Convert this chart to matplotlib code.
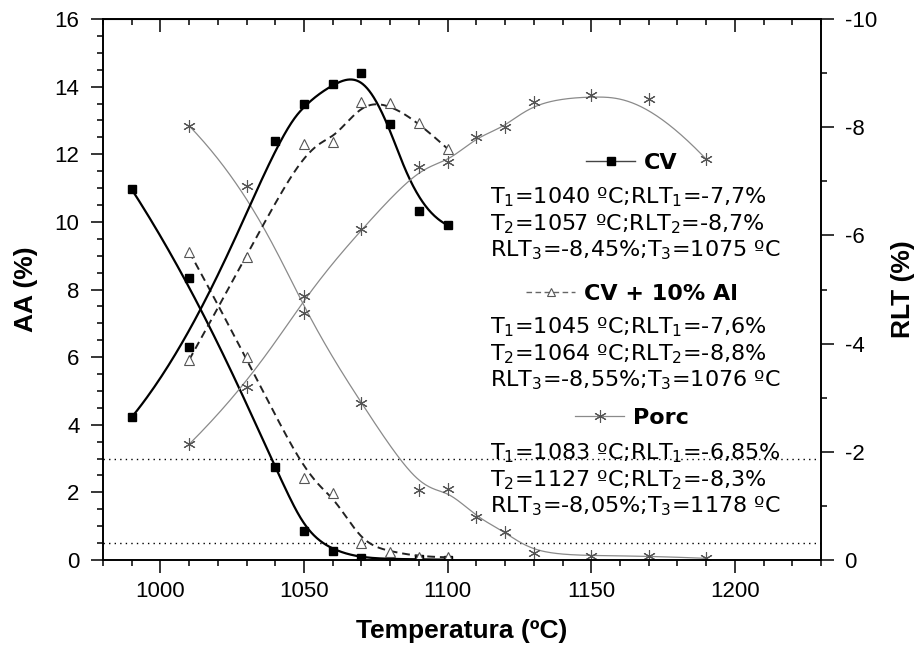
import numpy as np
import matplotlib.pyplot as plt
from matplotlib.ticker import MultipleLocator
from matplotlib.lines import Line2D

# temperatures (ºC)
t_cv = [990, 1010, 1040, 1050, 1060, 1070, 1080, 1090, 1100]
t_al = [1010, 1030, 1050, 1060, 1070, 1080, 1090, 1100]
t_porc = [1010, 1030, 1050, 1070, 1090, 1100, 1110, 1120, 1130, 1150, 1170, 1190]

# absorcao de agua AA (%)
aa_cv = [10.96, 8.33, 2.76, 0.87, 0.28, 0.07, 0.03, 0.02, 0.01]
aa_al = [9.12, 6.01, 2.43, 1.97, 0.49, 0.25, 0.10, 0.08]
aa_porc = [12.84, 11.07, 7.30, 4.63, 2.07, 2.09, 1.26, 0.84, 0.20, 0.12, 0.12, 0.05]

# retracao linear RLT (%)
rlt_cv = [-2.64, -3.94, -7.74, -8.42, -8.80, -9.01, -8.05, -6.45, -6.19]
rlt_al = [-3.70, -5.61, -7.69, -7.73, -8.46, -8.44, -8.08, -7.60]
rlt_porc = [-2.14, -3.20, -4.88, -6.11, -7.26, -7.35, -7.82, -8.00, -8.46, -8.60, -8.52, -7.41]

# AA limits (dotted lines)
aa_limits = [3.0, 0.5]

cv_text = [r"T$_1$=1040 ºC;RLT$_1$=-7,7%", r"T$_2$=1057 ºC;RLT$_2$=-8,7%", r"RLT$_3$=-8,45%;T$_3$=1075 ºC"]
al_text = [r"T$_1$=1045 ºC;RLT$_1$=-7,6%", r"T$_2$=1064 ºC;RLT$_2$=-8,8%", r"RLT$_3$=-8,55%;T$_3$=1076 ºC"]
porc_text = [r"T$_1$=1083 ºC;RLT$_1$=-6,85%", r"T$_2$=1127 ºC;RLT$_2$=-8,3%", r"RLT$_3$=-8,05%;T$_3$=1178 ºC"]


def bspline(x, y, n=400, k=3):
    # clamped cubic B-spline using the data points as control points (Origin "B-Spline" line)
    P = np.column_stack([x, y]).astype(float)
    m = len(P)
    k = min(k, m - 1)
    knots = np.concatenate([np.zeros(k), np.arange(m - k + 1), np.full(k, m - k)]).astype(float)
    t = np.linspace(0, m - k, n)
    N = np.zeros((n, len(knots) - 1))
    for i in range(len(knots) - 1):
        N[:, i] = (knots[i] <= t) & (t < knots[i + 1])
    last = np.where(knots[:-1] < knots[1:])[0][-1]
    N[t >= knots[-1], :] = 0
    N[t >= knots[-1], last] = 1
    for d in range(1, k + 1):
        Nn = np.zeros((n, len(knots) - 1 - d))
        for i in range(len(knots) - 1 - d):
            a = knots[i + d] - knots[i]
            b = knots[i + d + 1] - knots[i + 1]
            if a > 0:
                Nn[:, i] += (t - knots[i]) / a * N[:, i]
            if b > 0:
                Nn[:, i] += (knots[i + d + 1] - t) / b * N[:, i + 1]
        N = Nn
    C = N @ P
    return C[:, 0], C[:, 1]


plt.rcParams['font.family'] = 'Liberation Sans'
plt.rcParams['mathtext.fontset'] = 'dejavusans'
plt.rcParams['axes.unicode_minus'] = False

fig = plt.figure(figsize=(9.23, 6.55), dpi=100)
ax = fig.add_axes([0.1116, 0.145, 0.7779, 0.826])
ax2 = ax.twinx()

cv_style = dict(color='black', lw=1.6)
al_style = dict(color='#222222', lw=1.4, dashes=(4, 2.5))
porc_style = dict(color='#8a8a8a', lw=0.9)
cv_mk = dict(marker='s', ms=6, mfc='black', mec='black', ls='none')
al_mk = dict(marker='^', ms=7, mfc='white', mec='#555555', mew=0.8, ls='none')
porc_mk = dict(marker=(6, 2, 0), ms=9, mec='#555555', mew=0.8, ls='none')

for y in aa_limits:
    ax.axhline(y, color='black', lw=1.0, ls=(0, (1, 3)), zorder=1)

# AA curves (left axis)
ax.plot(*bspline(t_cv, aa_cv), **cv_style)
ax.plot(t_cv, aa_cv, **cv_mk)
ax.plot(*bspline(t_al, aa_al), **al_style)
ax.plot(t_al, aa_al, **al_mk)
ax.plot(*bspline(t_porc, aa_porc), **porc_style)
ax.plot(t_porc, aa_porc, **porc_mk)

# RLT curves (right axis)
ax2.plot(*bspline(t_cv, rlt_cv), **cv_style)
ax2.plot(t_cv, rlt_cv, **cv_mk)
ax2.plot(*bspline(t_al, rlt_al), **al_style)
ax2.plot(t_al, rlt_al, **al_mk)
ax2.plot(*bspline(t_porc, rlt_porc), **porc_style)
ax2.plot(t_porc, rlt_porc, **porc_mk)

ax.set_xlim(980, 1230)
ax.set_ylim(0, 16)
ax2.set_ylim(0, -10)

ax.xaxis.set_major_locator(MultipleLocator(50))
ax.xaxis.set_minor_locator(MultipleLocator(10))
ax.yaxis.set_major_locator(MultipleLocator(2))
ax.yaxis.set_minor_locator(MultipleLocator(0.5))
ax2.yaxis.set_major_locator(MultipleLocator(2))
ax2.yaxis.set_minor_locator(MultipleLocator(1))

for a in (ax, ax2):
    for s in a.spines.values():
        s.set_linewidth(1.2)
ax.tick_params(which='major', direction='out', length=9, width=1.1, labelsize=16)
ax.tick_params(which='minor', direction='out', length=4.5, width=1.1)
ax.tick_params(axis='y', which='major', pad=8)
ax.tick_params(axis='x', which='major', pad=6)
ax2.tick_params(which='major', direction='out', length=9, width=1.1, labelsize=16, pad=8)
ax2.tick_params(which='minor', direction='out', length=4.5, width=1.1)

top = ax.secondary_xaxis('top')
top.xaxis.set_major_locator(MultipleLocator(50))
top.xaxis.set_minor_locator(MultipleLocator(10))
top.tick_params(which='major', direction='in', length=9, width=1.1, labeltop=False)
top.tick_params(which='minor', direction='in', length=4.5, width=1.1)

ax.set_xlabel('Temperatura (ºC)', fontsize=19, fontweight='bold', labelpad=12)
ax.set_ylabel('AA (%)', fontsize=19, fontweight='bold', labelpad=12)
ax2.set_ylabel('RLT (%)', fontsize=19, fontweight='bold', labelpad=10)

# legend block
W, H = 923, 655


def handle(style, mk, **extra):
    kw = {**style, **{k: v for k, v in mk.items() if k != 'ls'}, **extra}
    return Line2D([], [], **kw)


groups = [
    ('CV', handle(cv_style, cv_mk, lw=1.0, color='#444444'), 163, cv_text, 197),
    ('CV + 10% Al', handle(al_style, al_mk, lw=1.0, color='#666666', ms=6), 294, al_text, 327),
    ('Porc', handle(porc_style, porc_mk), 418, porc_text, 453),
]
for label, h, ty, lines, ly in groups:
    fig.legend([h], [label], loc='center', bbox_to_anchor=(632 / W, 1 - ty / H),
               frameon=False, handlelength=2.2, handletextpad=0.4, borderpad=0, numpoints=1,
               prop=dict(family='DejaVu Sans', weight='bold', size=16))
    for i, s in enumerate(lines):
        fig.text(490 / W, 1 - (ly + i * 26.8) / H, s, family='DejaVu Sans', fontsize=16, va='center', ha='left')

fig.savefig('out.png', dpi=100)
